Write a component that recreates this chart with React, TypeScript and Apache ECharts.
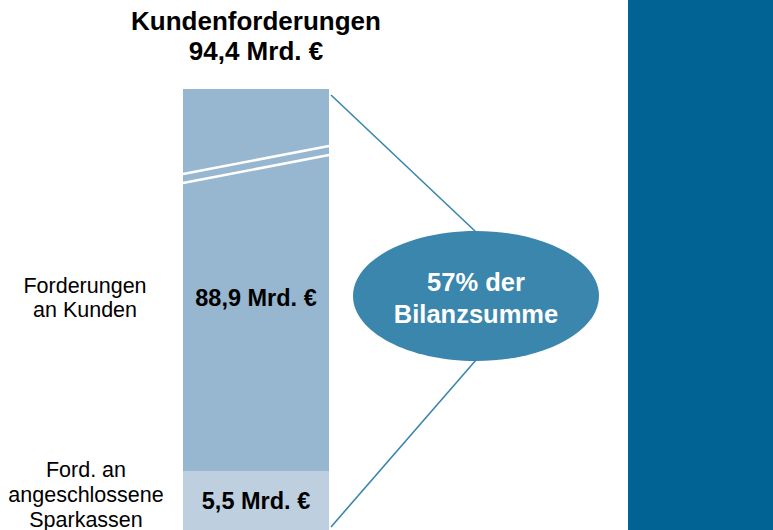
import React, { useEffect, useRef } from "react";
import * as echarts from "echarts";

const segmentNames = ["Ford. an\nangeschlossene\nSparkassen", "Forderungen\nan Kunden"];
const segmentValues = [5.5, 88.9];
const segmentColors = ["#bed0e0", "#97b6cf"];
const titleText = "Kundenforderungen";
const shareText = "57% der\nBilanzsumme";

const fmt = (v: number) => v.toFixed(1).replace(".", ",") + " Mrd. €";

export default function App() {
  const ref = useRef<HTMLDivElement>(null);
  useEffect(() => {
    if (!ref.current) return;
    const chart = echarts.init(ref.current, undefined, { renderer: "svg" });
    const total = Math.round(segmentValues.reduce((a, b) => a + b, 0) * 10) / 10;
    const font = "'Liberation Sans', Arial, sans-serif";
    const labelOffsets = [[0, 1], [0, 18]];
    chart.setOption({
      animation: false,
      textStyle: { fontFamily: font },
      grid: { left: 183, width: 146, top: 89, bottom: 0 },
      xAxis: { type: "category", data: [titleText], show: false },
      yAxis: {
        type: "value",
        min: 0,
        max: total,
        show: false,
        breaks: [{ start: 33, end: 88.3, gap: 2 }],
        breakArea: { show: false },
      },
      series: segmentValues.map((v, i) => ({
        type: "bar",
        stack: "total",
        barWidth: "100%",
        data: [v],
        itemStyle: { color: segmentColors[i] },
        label: {
          show: true,
          position: "inside",
          offset: labelOffsets[i],
          formatter: () => fmt(v),
          color: "#000",
          fontWeight: "bold",
          fontSize: 23.5,
          fontFamily: font,
        },
      })),
      graphic: [
        {
          type: "rect",
          shape: { x: 628, y: 0, width: 145, height: 530 },
          style: { fill: "#006394" },
        },
        {
          type: "text",
          x: 256,
          y: 36,
          style: {
            text: titleText + "\n" + fmt(total),
            textAlign: "center",
            textVerticalAlign: "middle",
            fontSize: 26,
            fontWeight: "bold",
            lineHeight: 30,
            fontFamily: font,
            fill: "#000",
          },
        },
        {
          type: "text",
          x: 86,
          y: 495,
          style: {
            text: segmentNames[0],
            textAlign: "center",
            textVerticalAlign: "middle",
            fontSize: 21.5,
            lineHeight: 25,
            fontFamily: font,
            fill: "#000",
          },
        },
        {
          type: "text",
          x: 85,
          y: 298,
          style: {
            text: segmentNames[1],
            textAlign: "center",
            textVerticalAlign: "middle",
            fontSize: 21.5,
            lineHeight: 24,
            fontFamily: font,
            fill: "#000",
          },
        },
        {
          type: "line",
          shape: { x1: 183, y1: 174, x2: 329, y2: 146 },
          style: { stroke: "#fff", lineWidth: 2.5 },
          z: 100,
        },
        {
          type: "line",
          shape: { x1: 183, y1: 183, x2: 329, y2: 155 },
          style: { stroke: "#fff", lineWidth: 2.5 },
          z: 100,
        },
        {
          type: "line",
          shape: { x1: 331, y1: 95, x2: 476, y2: 232 },
          style: { stroke: "#3a86ad", lineWidth: 1.6 },
        },
        {
          type: "line",
          shape: { x1: 331, y1: 527, x2: 476, y2: 360 },
          style: { stroke: "#3a86ad", lineWidth: 1.6 },
        },
        {
          type: "ellipse",
          shape: { cx: 476, cy: 296, rx: 123, ry: 65 },
          style: { fill: "#3a86ad" },
        },
        {
          type: "text",
          x: 476,
          y: 298,
          style: {
            text: shareText,
            textAlign: "center",
            textVerticalAlign: "middle",
            fontSize: 25.5,
            fontWeight: "bold",
            lineHeight: 32,
            fontFamily: font,
            fill: "#fff",
          },
        },
      ],
    });
    return () => chart.dispose();
  }, []);
  return (
    <div
      ref={ref}
      style={{ position: "fixed", left: 0, top: 0, width: 773, height: 530, background: "#fff" }}
    />
  );
}
